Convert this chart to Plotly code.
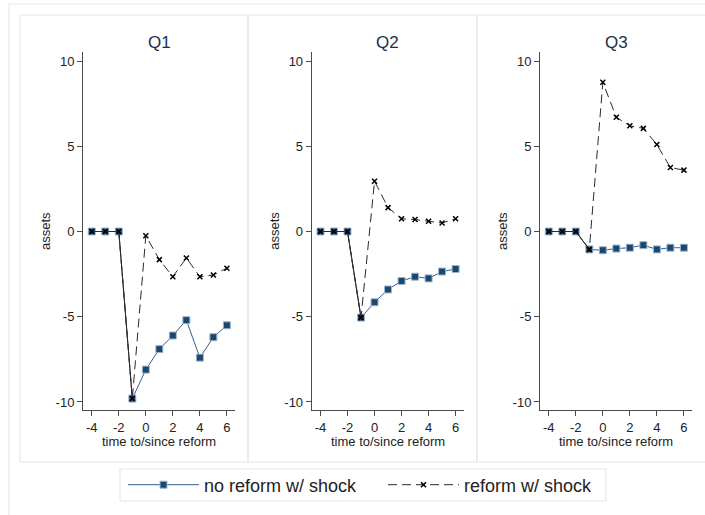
import plotly.graph_objects as go

W, H = 705, 515

# Event time relative to reform
periods = [-4, -3, -2, -1, 0, 1, 2, 3, 4, 5, 6]
x_ticks = [-4, -2, 0, 2, 4, 6]
x_tick_labels = ["-4", "-2", "0", "2", "4", "6"]
y_ticks = [-10, -5, 0, 5, 10]
y_tick_labels = ["-10", "-5", "0", "5", "10"]
panel_titles = ["Q1", "Q2", "Q3"]

# Asset paths by quantile group
no_reform_q1 = [0, 0, 0, -9.8, -8.1, -6.9, -6.1, -5.2, -7.4, -6.2, -5.5]
reform_q1 = [0, 0, 0, -9.8, -0.25, -1.65, -2.65, -1.55, -2.65, -2.55, -2.15]
no_reform_q2 = [0, 0, 0, -5.05, -4.15, -3.4, -2.9, -2.65, -2.75, -2.35, -2.2]
reform_q2 = [0, 0, 0, -5.05, 2.95, 1.4, 0.75, 0.7, 0.6, 0.5, 0.75]
no_reform_q3 = [0, 0, 0, -1.05, -1.1, -1.0, -0.95, -0.8, -1.05, -0.95, -0.95]
reform_q3 = [0, 0, 0, -1.05, 8.75, 6.7, 6.2, 6.05, 5.1, 3.75, 3.6]

no_reform = [no_reform_q1, no_reform_q2, no_reform_q3]
reform = [reform_q1, reform_q2, reform_q3]

NAVY = "#1a476f"
NAVY_LINE = "#34608c"
DARK = "#2a2a2a"
FRAME = "#e3eaee"
FONT = "Liberation Sans, Arial, sans-serif"

# Plot areas in pixels: (left, right) of each panel, shared top/bottom
x_px = [(83, 235), (311.7, 463.7), (540, 692)]
y_top, y_bot = 52, 410
panel_px = [(20, 248), (248, 477), (477, 760)]

fig = go.Figure()
annotations = []
shapes = []

# Outer frame, panel frames and legend box
shapes.append(dict(type="rect", xref="paper", yref="paper",
                   x0=9 / W, x1=760 / W, y0=1 - 560 / H, y1=1 - 4 / H,
                   line=dict(color=FRAME, width=1.2)))
for (p0, p1) in panel_px:
    shapes.append(dict(type="rect", xref="paper", yref="paper",
                       x0=p0 / W, x1=p1 / W, y0=1 - 462 / H, y1=1 - 15 / H,
                       line=dict(color=FRAME, width=1.2)))
shapes.append(dict(type="rect", xref="paper", yref="paper",
                   x0=120 / W, x1=606 / W, y0=1 - 501 / H, y1=1 - 469 / H,
                   line=dict(color=FRAME, width=1.2)))

layout_axes = {}
for i in range(3):
    n = "" if i == 0 else str(i + 1)
    xa, ya = "x" + n, "y" + n
    pre_x = [p for p in periods if p <= -1]
    pre_y = [v for p, v in zip(periods, reform[i]) if p <= -1]

    fig.add_trace(go.Scatter(
        x=periods, y=no_reform[i], xaxis=xa, yaxis=ya,
        mode="lines+markers", name="no reform w/ shock",
        showlegend=(i == 0), legendgroup="nr",
        line=dict(color=NAVY_LINE, width=1),
        marker=dict(symbol="square", size=7, color=NAVY,
                    line=dict(color="#9fb6cd", width=1))))
    fig.add_trace(go.Scatter(
        x=pre_x, y=pre_y, xaxis=xa, yaxis=ya, mode="lines",
        showlegend=False, hoverinfo="skip",
        line=dict(color=DARK, width=1)))
    fig.add_trace(go.Scatter(
        x=periods, y=reform[i], xaxis=xa, yaxis=ya,
        mode="lines+markers", name="reform w/ shock",
        showlegend=(i == 0), legendgroup="r",
        line=dict(color=DARK, width=1, dash="9px,5px"),
        marker=dict(symbol="x-thin", size=5, color="black",
                    line=dict(color="black", width=1.5))))

    axis_common = dict(showline=True, linecolor="#4a4a4a", linewidth=1,
                       ticks="outside", ticklen=5, tickcolor="#4a4a4a",
                       showgrid=False, zeroline=False,
                       tickfont=dict(family=FONT, size=13, color="#222"))
    x0, x1 = x_px[i]
    layout_axes["xaxis" + n] = dict(
        axis_common, domain=[x0 / W, x1 / W], range=[-4.65, 6.6],
        tickvals=x_ticks, ticktext=x_tick_labels, anchor=ya)
    layout_axes["yaxis" + n] = dict(
        axis_common, domain=[1 - y_bot / H, 1 - y_top / H],
        range=[-10.47, 10.53], tickvals=y_ticks, ticktext=y_tick_labels,
        anchor=xa)

    cx = (x0 + x1) / 2
    annotations.append(dict(text=panel_titles[i], xref="paper", yref="paper",
                            x=cx / W, y=1 - 42 / H, showarrow=False,
                            font=dict(family=FONT, size=17, color="#1c2f4a"),
                            xanchor="center", yanchor="middle"))
    annotations.append(dict(text="time to/since reform", xref="paper", yref="paper",
                            x=cx / W, y=1 - 441 / H, showarrow=False,
                            font=dict(family=FONT, size=13, color="#222"),
                            xanchor="center", yanchor="middle"))
    annotations.append(dict(text="assets", xref="paper", yref="paper",
                            x=(x0 - 38) / W, y=1 - 231 / H, showarrow=False,
                            textangle=-90,
                            font=dict(family=FONT, size=13, color="#222"),
                            xanchor="center", yanchor="middle"))

fig.update_layout(
    width=W, height=H,
    margin=dict(l=0, r=0, t=0, b=0),
    paper_bgcolor="white", plot_bgcolor="white",
    showlegend=True,
    legend=dict(orientation="h", x=123 / W, xanchor="left",
                y=1 - 485 / H, yanchor="middle",
                borderwidth=0, bgcolor="rgba(0,0,0,0)",
                itemwidth=71, entrywidth=174, entrywidthmode="pixels",
                tracegroupgap=0,
                font=dict(family=FONT, size=18, color="#222")),
    shapes=shapes, annotations=annotations,
    **layout_axes)

fig.write_html("out.html")
